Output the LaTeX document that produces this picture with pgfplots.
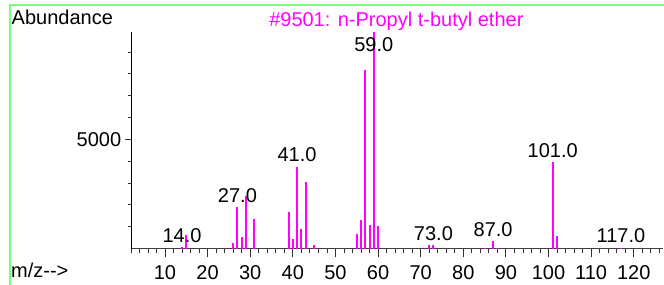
\documentclass[border=0pt]{standalone}
\usepackage{pgfplots}
\pgfplotsset{compat=1.18}
\usepackage{fontspec}
\setmainfont{Liberation Sans}
\definecolor{frame}{RGB}{128,250,128}
\definecolor{peak}{RGB}{255,0,255}
\newcommand{\bigfont}{\fontsize{20bp}{24bp}\selectfont}
\begin{document}
\begin{tikzpicture}
\useasboundingbox (0,0) rectangle (664bp,285bp);
\draw[frame, line width=1.5bp] (10bp,0) -- (10bp,280.2bp) -- (664bp,280.2bp);
\node[anchor=base west, inner sep=0pt, font=\bigfont] at (11.5bp,260bp) {Abundance};
\node[anchor=base west, inner sep=0pt, font=\bigfont] at (11bp,8bp) {m/z-{}->};
\begin{axis}[
  at={(130.9bp,36.5bp)}, anchor=south west,
  scale only axis, width=531.8bp, height=216.2bp,
  xmin=2, xmax=126.8, ymin=0, ymax=9900,
  axis x line=bottom, axis y line=left,
  axis line style={-, line width=0.8bp},
  x axis line style={black!75},
  xtick={10,20,...,120}, minor xtick={2,4,...,126},
  ytick={5000}, minor ytick={1000,2000,...,9000},
  tick align=outside,
  major tick length=9bp, minor tick length=5bp,
  tick style={black!80, line width=0.8bp},
  ytick style={/pgfplots/major tick length=5.7bp, /pgfplots/minor tick length=3bp},
  /pgf/number format/assume math mode=true,
  /pgf/number format/set thousands separator={},
  tick label style={font=\bigfont},
  xticklabel style={inner sep=0pt, anchor=base, yshift=-22bp},
  yticklabel style={inner sep=0.5pt},
  clip=false,
]
\addplot[ycomb, no marks, peak, line width=2bp] coordinates {
(14,60) (15,620) (26,240) (27,1915) (28,525) (29,2400) (31,1350)
(39,1685) (40,435) (41,3745) (42,890) (43,3060) (45,160)
(55,665) (56,1305) (57,8175) (58,1075) (59,9900) (60,1030)
(72,145) (73,160) (85,40) (87,355) (88,40) (101,3960) (102,570) (117,30)
};
\node[anchor=base, inner sep=0pt, font=\bigfont, text=peak] at (axis cs:64.3,10188) {\#9501: n-Propyl t-butyl ether};
\node[anchor=base, inner sep=0pt, font=\bigfont] at (axis cs:14,252) {14.0};
\node[anchor=base, inner sep=0pt, font=\bigfont] at (axis cs:27,2097) {27.0};
\node[anchor=base, inner sep=0pt, font=\bigfont] at (axis cs:41,3974) {41.0};
\node[anchor=base, inner sep=0pt, font=\bigfont] at (axis cs:59,9011) {59.0};
\node[anchor=base, inner sep=0pt, font=\bigfont] at (axis cs:73,389) {73.0};
\node[anchor=base, inner sep=0pt, font=\bigfont] at (axis cs:87,540) {87.0};
\node[anchor=base, inner sep=0pt, font=\bigfont] at (axis cs:101,4176) {101.0};
\node[anchor=base, inner sep=0pt, font=\bigfont] at (axis cs:117,252) {117.0};
\end{axis}
\end{tikzpicture}
\end{document}
